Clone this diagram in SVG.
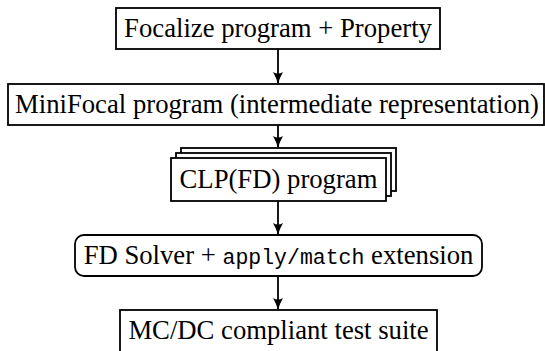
<svg xmlns="http://www.w3.org/2000/svg" width="545" height="351" viewBox="0 0 545 351">
<defs>
<style>
.box{fill:#fff;stroke:#000;stroke-width:1.8}
.t{font-family:'Liberation Serif','Times New Roman',Times,serif;font-size:26.7px;fill:#000;text-anchor:middle}
.m{font-family:'Liberation Mono','Courier New',Courier,monospace;font-size:21.5px}
.edge{stroke:#000;stroke-width:1.8;fill:none}
</style>
<marker id="arr" viewBox="0 0 12 10" refX="11" refY="5" markerWidth="12" markerHeight="10" markerUnits="userSpaceOnUse" orient="auto">
<path d="M0,0 Q6,3.5 12,5 Q6,6.5 0,10 Q3,5 0,0 Z" fill="#000"/>
</marker>
</defs>
<rect width="545" height="351" fill="#fff"/>
<g id="connectors">
<line class="edge" x1="278" y1="49" x2="278" y2="83" marker-end="url(#arr)"/>
<line class="edge" x1="278" y1="125" x2="278" y2="147" marker-end="url(#arr)"/>
<line class="edge" x1="278" y1="201" x2="278" y2="234" marker-end="url(#arr)"/>
<line class="edge" x1="278" y1="276" x2="278" y2="309" marker-end="url(#arr)"/>
</g>
<g id="focalize">
<rect class="box" x="116" y="8" width="324" height="41"/>
<text class="t" x="278" y="37">Focalize program + Property</text>
</g>
<g id="minifocal">
<rect class="box" x="8" y="84" width="536" height="41"/>
<text class="t" x="277" y="113">MiniFocal program (intermediate representation)</text>
</g>
<g id="clpfd">
<rect class="box" x="181" y="148" width="215" height="43"/>
<rect class="box" x="176" y="153" width="215" height="43"/>
<rect class="box" x="171" y="158" width="215" height="43"/>
<text class="t" x="278.5" y="188">CLP(FD) program</text>
</g>
<g id="solver">
<rect class="box" x="75" y="235" width="407" height="41" rx="9"/>
<text class="t" x="278.5" y="264">FD Solver + <tspan class="m">apply/match</tspan> extension</text>
</g>
<g id="mcdc">
<rect class="box" x="120" y="310" width="317" height="50"/>
<text class="t" x="278.5" y="339">MC/DC compliant test suite</text>
</g>
</svg>
